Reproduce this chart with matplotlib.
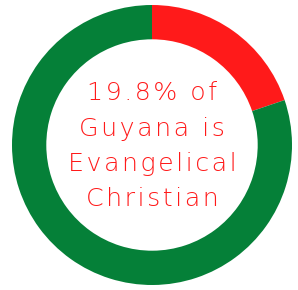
import numpy as np
import matplotlib.pyplot as plt

labels = ['Evangelical Christian', 'Other']
shares = [19.8, 80.2]
colours = ['#ff1a1a', '#058038']
caption_lines = ['19.8% of', 'Guyana is', 'Evangelical', 'Christian']

# spread the letters a bit, the original font is wide-tracked
caption = '\n'.join('\u200a'.join(line) for line in caption_lines)

fig = plt.figure(figsize=(2.98, 2.90), dpi=100)
ax = fig.add_axes([0, 0, 1, 1])
ax.pie(shares, colors=colours, startangle=90, counterclock=False,
       radius=1.0, wedgeprops=dict(width=0.245, edgecolor='none'))
ax.text(0, -0.01, caption, ha='center', va='center', color='#ff1a1a',
        fontsize=18.2, linespacing=1.6, family=['DejaVu Sans'],
        fontweight='light')
ax.set_xlim(-152 / 140, 146 / 140)
ax.set_ylim(-145 / 140, 145 / 140)
ax.set_aspect('auto')
ax.axis('off')
fig.savefig('out.png', dpi=100)
